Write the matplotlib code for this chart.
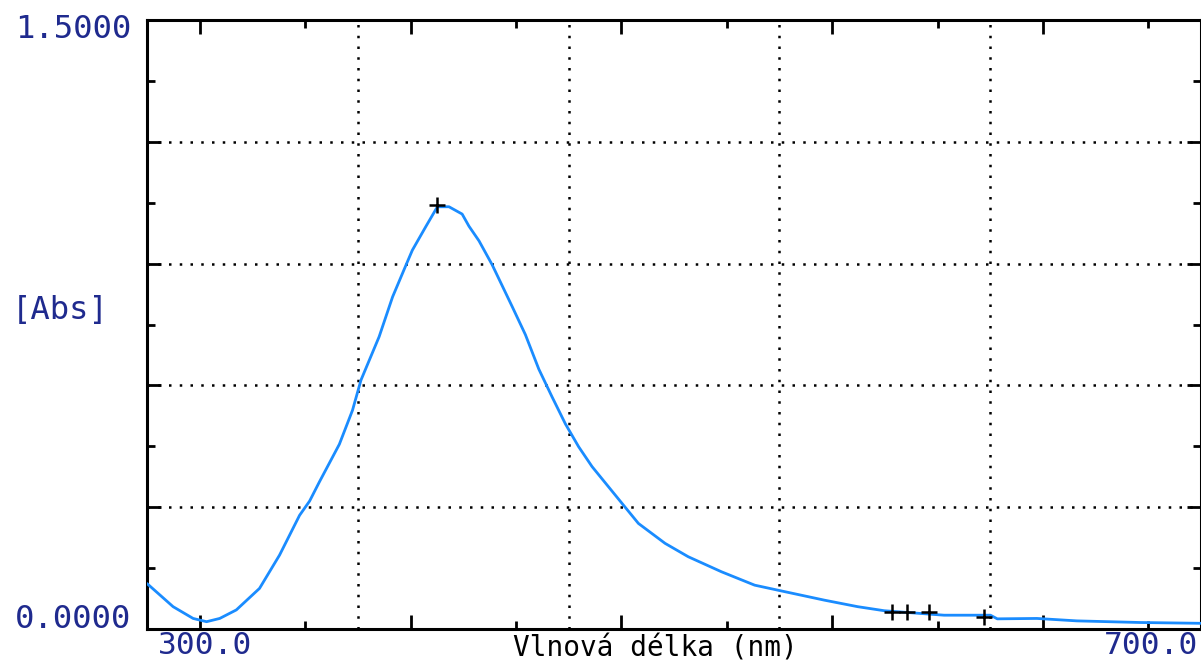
import matplotlib
matplotlib.use("Agg")
import matplotlib.pyplot as plt
from matplotlib.ticker import MultipleLocator

# ---- data ----
wavelength = [300.0, 309.9, 317.5, 322.6, 327.6, 333.9, 342.7, 350.3, 357.9, 361.7,
              365.4, 373.0, 378.0, 381.2, 388.1, 393.2, 398.2, 400.7, 405.8, 410.2,
              414.6, 419.6, 422.2, 426.0, 431.0, 438.6, 443.6, 448.7, 453.7, 458.8,
              463.8, 468.9, 480.2, 486.5, 496.6, 505.4, 518.0, 530.6, 542.0, 557.1,
              569.7, 579.8, 590.0, 602.5, 620.1, 622.7, 637.7, 652.9, 676.9, 700.0]
absorbance = [0.112, 0.055, 0.026, 0.018, 0.026, 0.047, 0.100, 0.182, 0.280, 0.315,
              0.362, 0.455, 0.539, 0.613, 0.720, 0.818, 0.895, 0.933, 0.991, 1.040,
              1.040, 1.022, 0.992, 0.956, 0.897, 0.794, 0.725, 0.640, 0.572, 0.505,
              0.449, 0.400, 0.310, 0.260, 0.211, 0.178, 0.141, 0.108, 0.092, 0.071,
              0.055, 0.045, 0.040, 0.034, 0.034, 0.025, 0.026, 0.020, 0.016, 0.014]

marker_wl = [410.2, 582.9, 588.6, 596.8, 617.6]
marker_abs = [1.044, 0.043, 0.043, 0.041, 0.030]

x_min, x_max = 300.0, 700.0
y_min, y_max = 0.0, 1.5
x_labels = ["300.0", "700.0"]
y_labels = ["1.5000", "0.0000"]
y_title = "[Abs]"
x_title = "Vlnová délka (nm)"

W, H = 1201, 662
fig = plt.figure(figsize=(W / 100, H / 100), dpi=100)
fig.patch.set_facecolor("white")

ax_l, ax_r, ax_t, ax_b = 147, 1201, 20, 629
ax = fig.add_axes([ax_l / W, 1 - ax_b / H, (ax_r - ax_l) / W, (ax_b - ax_t) / H])
ax.set_xlim(x_min, x_max)
ax.set_ylim(y_min, y_max)

# grid
for gx in [380, 460, 540, 620]:
    ax.axvline(gx, color="black", lw=1.8, linestyle=(0, (1, 3.3)), zorder=1)
for gy in [0.3, 0.6, 0.9, 1.2]:
    ax.axhline(gy, color="black", lw=1.8, linestyle=(0, (1, 3.3)), zorder=1)

ax.plot(wavelength, absorbance, color="#1a8cff", lw=2.0, zorder=3,
        solid_joinstyle="round", solid_capstyle="round")
ax.plot(marker_wl, marker_abs, linestyle="none", marker="+", color="black",
        markersize=12, mew=1.8, zorder=4)

for s in ax.spines.values():
    s.set_linewidth(2.2)
    s.set_color("black")

ax.xaxis.set_major_locator(MultipleLocator(80))
ax.xaxis.set_minor_locator(MultipleLocator(40))
ax.yaxis.set_major_locator(MultipleLocator(0.3))
ax.yaxis.set_minor_locator(MultipleLocator(0.15))
ax.tick_params(which="both", direction="in", top=True, right=True,
               labelbottom=False, labelleft=False, color="black")
ax.tick_params(which="major", length=10, width=2)
ax.tick_params(which="minor", length=6, width=2)

navy = "#1f2a8e"
mono = "DejaVu Sans Mono"
fs = 23.2

def ft(xpx, ypx, s, **kw):
    fig.text(xpx / W, 1 - ypx / H, s, **kw)

ft(131, 30, y_labels[0], ha="right", va="center", color=navy, family=mono, fontsize=fs)
ft(131, 620, y_labels[1], ha="right", va="center", color=navy, family=mono, fontsize=fs)
ft(12, 310, y_title, ha="left", va="center", color=navy, family=mono, fontsize=fs)
ft(158, 654, x_labels[0], ha="left", va="baseline", color=navy, family=mono, fontsize=22.5)
ft(1198, 654, x_labels[1], ha="right", va="baseline", color=navy, family=mono, fontsize=22.5)
ft(513, 656, x_title, ha="left", va="baseline", color="black", family=mono, fontsize=20.0)

fig.savefig("out.png", dpi=100, facecolor="white")
